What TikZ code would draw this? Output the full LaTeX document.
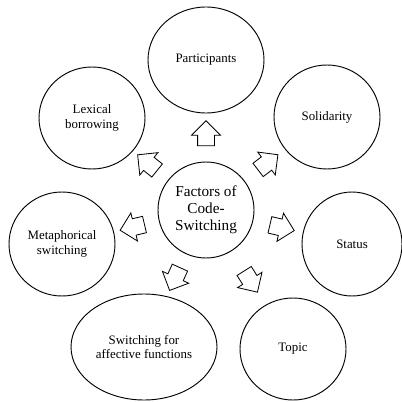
\documentclass[tikz,border=0pt]{standalone}
\usepackage{fontspec}
\setmainfont{Liberation Serif}
\usetikzlibrary{shapes.geometric, shapes.arrows}

\tikzset{
  factor/.style={draw, ellipse, line width=0.8pt, inner sep=0pt, align=center,
    font=\fontsize{11}{12.5}\selectfont},
  hub/.style={draw, circle, line width=0.8pt, inner sep=0pt, minimum size=2.88cm,
    align=center, font=\fontsize{13}{14.5}\selectfont},
  blockarrow/.style={draw, fill=white, single arrow, line width=0.7pt,
    inner xsep=0pt, inner ysep=0.24cm,
    minimum height=0.75cm, single arrow head extend=0.18cm,
    sloped, allow upside down}
}

\begin{document}
\begin{tikzpicture}[x=0.03cm, y=-0.03cm]
	\useasboundingbox (0,0) rectangle (402,401);
	
	% Centre
	\node[hub] (fac) at (206,210) {Factors of\\Code-\\Switching};
	
	% Factors
	\node[factor, minimum width=3.48cm, minimum height=3.18cm] (part) at (206,60) {Participants};
	\node[factor, minimum width=3.18cm, minimum height=3.12cm] (sol) at (327,117) {Solidarity};
	\node[factor, minimum width=3.18cm, minimum height=3.06cm] (lex) at (92,118) {Lexical\\borrowing};
	\node[factor, minimum width=3.0cm, minimum height=3.12cm] (stat) at (352,244) {Status};
	\node[factor, minimum width=3.18cm, minimum height=3.12cm] (meta) at (62,244) {Metaphorical\\switching};
	\node[factor, minimum width=4.38cm, minimum height=3.18cm] (aff) at (144,347) {Switching for\\affective functions};
	\node[factor, minimum width=3.18cm, minimum height=3.06cm] (top) at (293,349) {Topic};
	
	% Arrows
	\path (fac) -- node[blockarrow] {} (part);
	\path (fac) -- node[blockarrow] {} (sol);
	\path (fac) -- node[blockarrow] {} (lex);
	\path (fac) -- node[blockarrow] {} (stat);
	\path (fac) -- node[blockarrow] {} (meta);
	\path (fac) -- node[blockarrow] {} (aff);
	\path (fac) -- node[blockarrow] {} (top);
\end{tikzpicture}
\end{document}
